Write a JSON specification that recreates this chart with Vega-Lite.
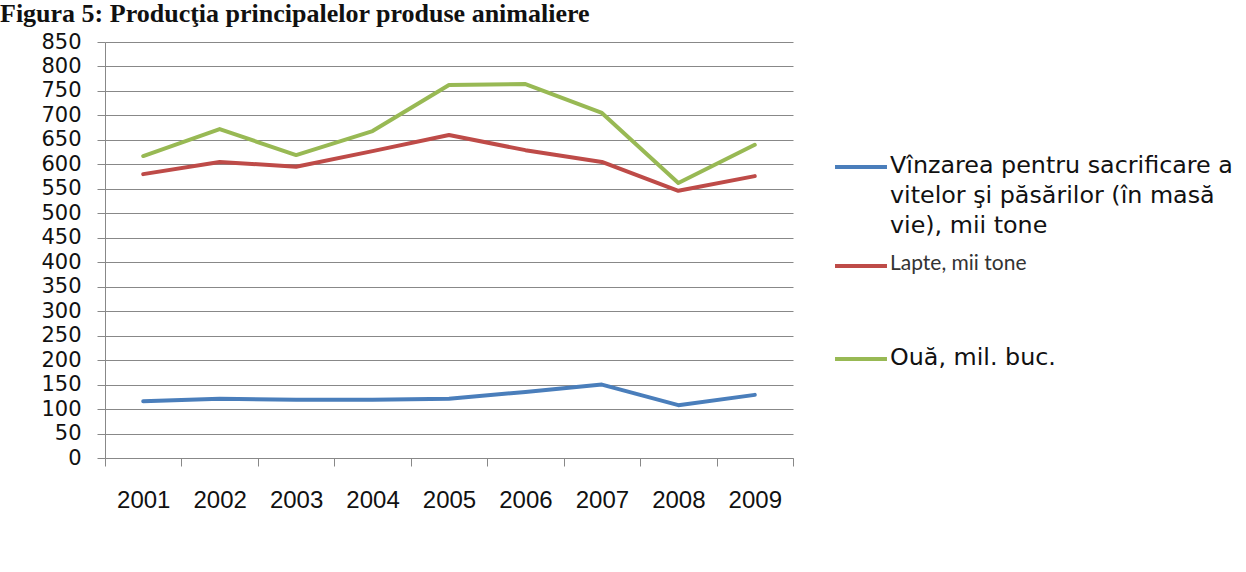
{
  "$schema": "https://vega.github.io/schema/vega-lite/v6.json",
  "width": 688,
  "height": 416,
  "autosize": {"type": "none"},
  "padding": {"left": 105, "top": 42, "right": 453, "bottom": 114},
  "background": "white",
  "title": {
    "text": "Figura 5: Producţia principalelor produse animaliere",
    "font": "Liberation Serif",
    "fontSize": 26,
    "fontWeight": "bold",
    "color": "#111111",
    "anchor": "start",
    "frame": "group",
    "dx": -105,
    "dy": 17,
    "baseline": "alphabetic",
    "offset": 0
  },
  "data": {
    "values": [
      {"year": "2001", "series": "Vînzarea pentru sacrificare a vitelor şi păsărilor (în masă vie), mii tone", "value": 116},
      {"year": "2002", "series": "Vînzarea pentru sacrificare a vitelor şi păsărilor (în masă vie), mii tone", "value": 121},
      {"year": "2003", "series": "Vînzarea pentru sacrificare a vitelor şi păsărilor (în masă vie), mii tone", "value": 119},
      {"year": "2004", "series": "Vînzarea pentru sacrificare a vitelor şi păsărilor (în masă vie), mii tone", "value": 119},
      {"year": "2005", "series": "Vînzarea pentru sacrificare a vitelor şi păsărilor (în masă vie), mii tone", "value": 121},
      {"year": "2006", "series": "Vînzarea pentru sacrificare a vitelor şi păsărilor (în masă vie), mii tone", "value": 135},
      {"year": "2007", "series": "Vînzarea pentru sacrificare a vitelor şi păsărilor (în masă vie), mii tone", "value": 150},
      {"year": "2008", "series": "Vînzarea pentru sacrificare a vitelor şi păsărilor (în masă vie), mii tone", "value": 108},
      {"year": "2009", "series": "Vînzarea pentru sacrificare a vitelor şi păsărilor (în masă vie), mii tone", "value": 129},
      {"year": "2001", "series": "Lapte, mii tone", "value": 580},
      {"year": "2002", "series": "Lapte, mii tone", "value": 605},
      {"year": "2003", "series": "Lapte, mii tone", "value": 595},
      {"year": "2004", "series": "Lapte, mii tone", "value": 627},
      {"year": "2005", "series": "Lapte, mii tone", "value": 660},
      {"year": "2006", "series": "Lapte, mii tone", "value": 629},
      {"year": "2007", "series": "Lapte, mii tone", "value": 605},
      {"year": "2008", "series": "Lapte, mii tone", "value": 546},
      {"year": "2009", "series": "Lapte, mii tone", "value": 576},
      {"year": "2001", "series": "Ouă, mil. buc.", "value": 617},
      {"year": "2002", "series": "Ouă, mil. buc.", "value": 672},
      {"year": "2003", "series": "Ouă, mil. buc.", "value": 619},
      {"year": "2004", "series": "Ouă, mil. buc.", "value": 668},
      {"year": "2005", "series": "Ouă, mil. buc.", "value": 762},
      {"year": "2006", "series": "Ouă, mil. buc.", "value": 764},
      {"year": "2007", "series": "Ouă, mil. buc.", "value": 705},
      {"year": "2008", "series": "Ouă, mil. buc.", "value": 562},
      {"year": "2009", "series": "Ouă, mil. buc.", "value": 640}
    ]
  },
  "mark": {"type": "line", "strokeWidth": 4, "strokeCap": "round", "strokeJoin": "round"},
  "encoding": {
    "x": {
      "field": "year",
      "type": "ordinal",
      "scale": {"type": "band", "paddingInner": 0, "paddingOuter": 0},
      "axis": {
        "title": null,
        "labelAngle": 0,
        "labelFont": "Liberation Sans",
        "labelFontSize": 24,
        "labelColor": "#111111",
        "labelPadding": 22,
        "tickBand": "extent",
        "tickSize": 8,
        "tickColor": "#888888",
        "domainColor": "#888888",
        "grid": false
      }
    },
    "y": {
      "field": "value",
      "type": "quantitative",
      "scale": {"domain": [0, 850], "nice": false},
      "axis": {
        "title": null,
        "values": [0,50,100,150,200,250,300,350,400,450,500,550,600,650,700,750,800,850],
        "labelFont": "DejaVu Sans",
        "labelFontSize": 21,
        "labelColor": "#111111",
        "labelPadding": 16,
        "tickSize": 8,
        "tickColor": "#888888",
        "domainColor": "#888888",
        "grid": true,
        "gridColor": "#888888",
        "gridWidth": 1
      }
    },
    "color": {
      "field": "series",
      "type": "nominal",
      "scale": {
        "domain": ["Vînzarea pentru sacrificare a vitelor şi păsărilor (în masă vie), mii tone", "Lapte, mii tone", "Ouă, mil. buc."],
        "range": ["#4A7EBB", "#BE4B48", "#98B954"]
      },
      "legend": {
        "title": null,
        "orient": "none",
        "legendX": 728,
        "legendY": 97,
        "symbolType": "stroke",
        "symbolSize": 2700,
        "symbolStrokeWidth": 4,
        "labelFont": "DejaVu Sans",
        "labelFontSize": 23.8,
        "labelColor": "#111111",
        "labelLimit": 420,
        "labelBaseline": "top",
        "labelOffset": 1,
        "rowPadding": -5,
        "labelExpr": "indexof(datum.label, 'Vînzarea') == 0 ? ['Vînzarea pentru sacrificare a', 'vitelor şi păsărilor (în masă', 'vie), mii tone'] : [datum.label, '', '']",
        "encode": {
          "labels": {
            "update": {
              "lineHeight": [{"test": "datum.value === 'Lapte, mii tone'", "value": 28.5}, {"value": 30}],
              "dy": {"value": -13},
              "font": [{"test": "datum.value === 'Lapte, mii tone'", "value": "Lato"}, {"value": "DejaVu Sans"}],
              "fontSize": [{"test": "datum.value === 'Lapte, mii tone'", "value": 21}, {"value": 23.8}],
              "fill": [{"test": "datum.value === 'Lapte, mii tone'", "value": "#333333"}, {"value": "#111111"}]
            }
          }
        }
      }
    }
  },
  "config": {"view": {"stroke": null}}
}
